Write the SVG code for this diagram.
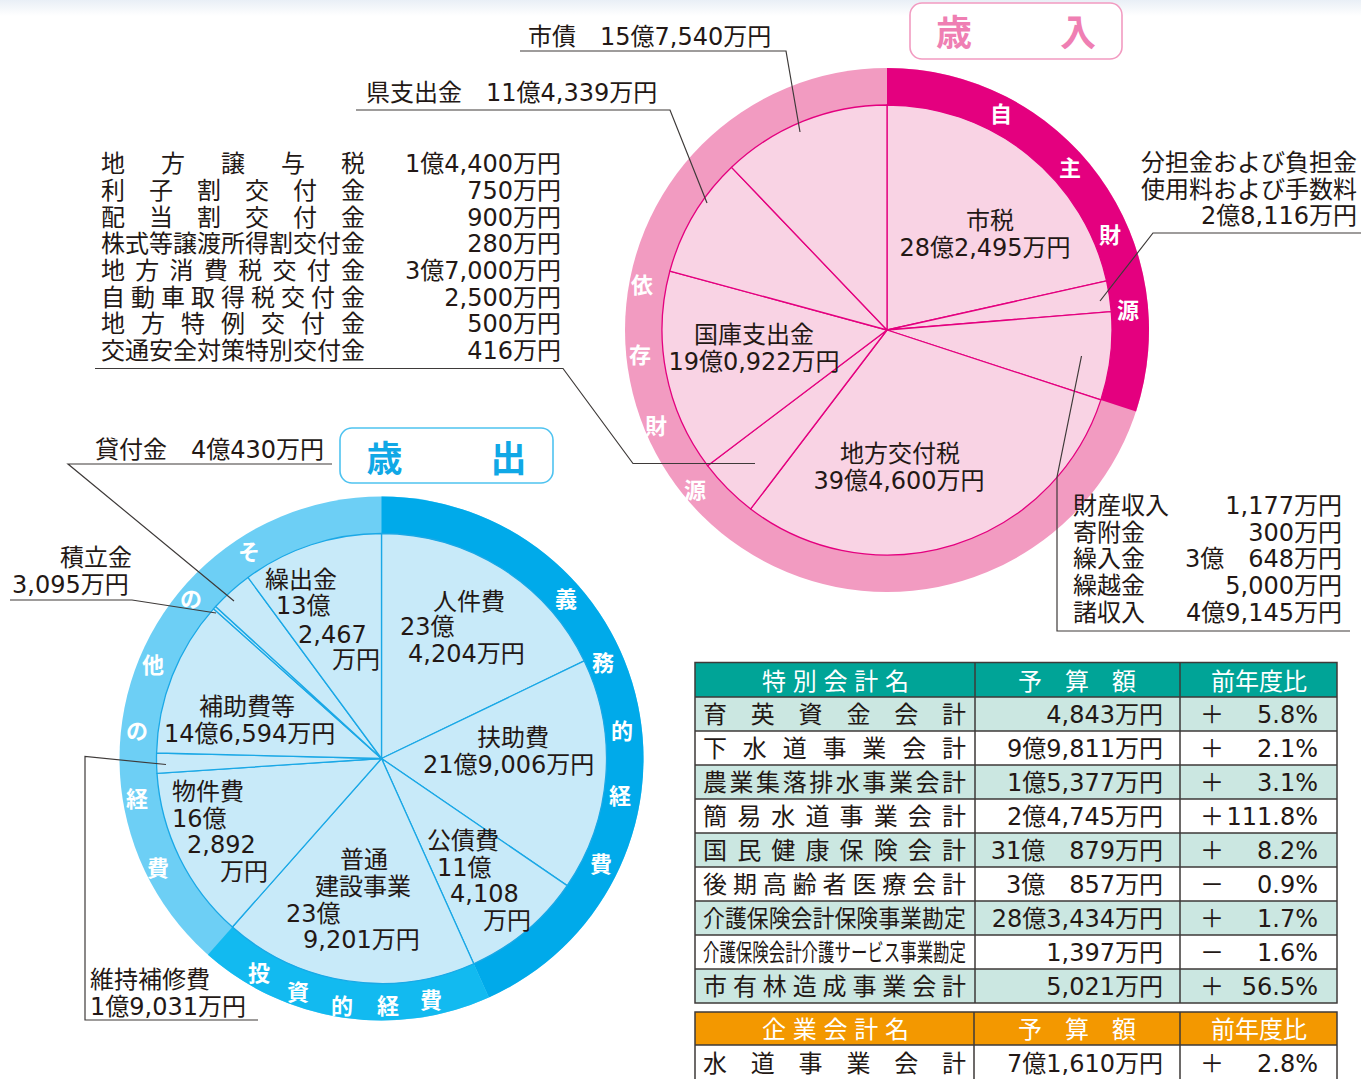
<svg xmlns="http://www.w3.org/2000/svg" width="1361" height="1079" viewBox="0 0 1361 1079">
<defs>
<linearGradient id="topband" x1="0" y1="0" x2="0" y2="1">
<stop offset="0" stop-color="#e9eff6"/>
<stop offset="1" stop-color="#ffffff"/>
</linearGradient>
<style>
.t{font-family:"DejaVu Sans","Noto Sans CJK JP",sans-serif;font-size:24px;fill:#231815}
.m{text-anchor:middle}
.e{text-anchor:end}
.rw{font-family:"Noto Sans CJK JP",sans-serif;font-size:22px;font-weight:700;fill:#ffffff;text-anchor:middle}
.ttl{font-family:"Noto Sans CJK JP",sans-serif;font-size:36px;font-weight:700;text-anchor:middle}
.ld{fill:none;stroke:#3e3a39;stroke-width:1.2}
.ps{fill:#f9d3e4;stroke:#e4007f;stroke-width:1.3;stroke-linejoin:round}
.bs{fill:#c8eaf9;stroke:#1aa8e6;stroke-width:1.3;stroke-linejoin:round}
.grid{fill:none;stroke:#3e3a39;stroke-width:1.5}
.hd{font-family:"Noto Sans CJK JP",sans-serif;font-size:24px;fill:#ffffff}
</style>
</defs>
<rect x="0" y="0" width="1361" height="1079" fill="#ffffff"/>
<rect x="0" y="0" width="1361" height="16" fill="url(#topband)"/>

<!-- ===== Revenue pie ===== -->
<g id="revenue-ring">
<circle cx="887" cy="330" r="262" fill="#f29bc1"/>
<path d="M887,330 L887,68 A262,262 0 0 1 1136.04,411.40 Z" fill="#e4007f"/>
<text class="rw" x="1001" y="122">自</text>
<text class="rw" x="1070" y="176">主</text>
<text class="rw" x="1110" y="243">財</text>
<text class="rw" x="1128" y="318">源</text>
<text class="rw" x="642" y="293">依</text>
<text class="rw" x="640" y="363">存</text>
<text class="rw" x="656" y="434">財</text>
<text class="rw" x="695" y="498">源</text>
</g>
<g id="rev-shizei"><path class="ps" d="M887,330 L887,105 A225,225 0 0 1 1106.58,280.92 Z"/>
<text class="t m" x="990" y="229">市税</text><text class="t m" x="985" y="256">28億2,495万円</text></g>
<g id="rev-buntankin"><path class="ps" d="M887,330 L1106.58,280.92 A225,225 0 0 1 1111.24,311.56 Z"/></g>
<g id="rev-zaisan"><path class="ps" d="M887,330 L1111.24,311.56 A225,225 0 0 1 1100.87,399.90 Z"/></g>
<g id="rev-koufuzei"><path class="ps" d="M887,330 L1100.87,399.90 A225,225 0 0 1 750.65,508.98 Z"/>
<text class="t m" x="900" y="462">地方交付税</text><text class="t m" x="899" y="489">39億4,600万円</text></g>
<g id="rev-jouyozei"><path class="ps" d="M887,330 L750.65,508.98 A225,225 0 0 1 707.56,465.72 Z"/></g>
<g id="rev-kokko"><path class="ps" d="M887,330 L707.56,465.72 A225,225 0 0 1 669.87,271.01 Z"/>
<text class="t m" x="754" y="343">国庫支出金</text><text class="t m" x="754" y="370">19億0,922万円</text></g>
<g id="rev-ken"><path class="ps" d="M887,330 L669.87,271.01 A225,225 0 0 1 731.55,167.33 Z"/></g>
<g id="rev-shisai"><path class="ps" d="M887,330 L731.55,167.33 A225,225 0 0 1 887,105 Z"/></g>

<g id="revenue-title">
<rect x="910" y="3" width="212" height="56" rx="12" fill="#ffffff" stroke="#f29bc1" stroke-width="1.6"/>
<text class="ttl" x="954" y="46" fill="#ef7fb3">歳</text>
<text class="ttl" x="1078" y="46" fill="#ef7fb3">入</text>
</g>

<g id="label-shisai"><text class="t" x="528" y="45">市債　15億7,540万円</text></g>
<g id="label-ken"><text class="t" x="366" y="101">県支出金　11億4,339万円</text></g>
<g id="label-buntankin">
<text class="t e" x="1357" y="171">分担金および負担金</text>
<text class="t e" x="1357" y="198">使用料および手数料</text>
<text class="t e" x="1357" y="224">2億8,116万円</text>
</g>
<g id="label-zaisan">
<text class="t" x="1073" y="514">財産収入</text><text class="t e" x="1342" y="514">1,177万円</text>
<text class="t" x="1073" y="541">寄附金</text><text class="t e" x="1342" y="541">300万円</text>
<text class="t" x="1073" y="567">繰入金</text><text class="t e" x="1342" y="567">3億　648万円</text>
<text class="t" x="1073" y="594">繰越金</text><text class="t e" x="1342" y="594">5,000万円</text>
<text class="t" x="1073" y="621">諸収入</text><text class="t e" x="1342" y="621">4億9,145万円</text>
</g>
<g id="label-jouyozei">
<text class="t" x="101" y="172" textLength="264" lengthAdjust="spacing">地方譲与税</text><text class="t e" x="561" y="172">1億4,400万円</text>
<text class="t" x="101" y="199" textLength="264" lengthAdjust="spacing">利子割交付金</text><text class="t e" x="561" y="199">750万円</text>
<text class="t" x="101" y="225.5" textLength="264" lengthAdjust="spacing">配当割交付金</text><text class="t e" x="561" y="225.5">900万円</text>
<text class="t" x="101" y="252" textLength="264" lengthAdjust="spacing">株式等譲渡所得割交付金</text><text class="t e" x="561" y="252">280万円</text>
<text class="t" x="101" y="279" textLength="264" lengthAdjust="spacing">地方消費税交付金</text><text class="t e" x="561" y="279">3億7,000万円</text>
<text class="t" x="101" y="305.5" textLength="264" lengthAdjust="spacing">自動車取得税交付金</text><text class="t e" x="561" y="305.5">2,500万円</text>
<text class="t" x="101" y="332" textLength="264" lengthAdjust="spacing">地方特例交付金</text><text class="t e" x="561" y="332">500万円</text>
<text class="t" x="101" y="359" textLength="264" lengthAdjust="spacing">交通安全対策特別交付金</text><text class="t e" x="561" y="359">416万円</text>
</g>

<!-- ===== Expenditure pie ===== -->
<g id="expenditure-ring">
<circle cx="381.5" cy="758.5" r="262" fill="#6dcff5"/>
<path d="M381.5,758.5 L381.5,496.5 A262,262 0 0 1 488.90,997.48 Z" fill="#00aaea"/>
<path d="M381.5,758.5 L488.90,997.48 A262,262 0 0 1 207.89,954.73 Z" fill="#12baf0"/>
<text class="rw" x="566" y="607">義</text>
<text class="rw" x="603" y="671">務</text>
<text class="rw" x="622" y="739">的</text>
<text class="rw" x="620" y="804">経</text>
<text class="rw" x="601" y="872">費</text>
<text class="rw" x="259" y="981">投</text>
<text class="rw" x="298" y="1000">資</text>
<text class="rw" x="342" y="1014">的</text>
<text class="rw" x="388" y="1014">経</text>
<text class="rw" x="431" y="1008">費</text>
<text class="rw" x="249" y="560">そ</text>
<text class="rw" x="191" y="607">の</text>
<text class="rw" x="153" y="673">他</text>
<text class="rw" x="137" y="739">の</text>
<text class="rw" x="137" y="807">経</text>
<text class="rw" x="158" y="876">費</text>
</g>
<g id="exp-jinkenhi"><path class="bs" d="M381.5,758.5 L381.5,533.5 A225,225 0 0 1 584.24,660.93 Z"/>
<text class="t" x="433" y="610">人件費</text><text class="t" x="400" y="635">23億</text><text class="t" x="408" y="662">4,204万円</text></g>
<g id="exp-fujohi"><path class="bs" d="M381.5,758.5 L584.24,660.93 A225,225 0 0 1 567.15,885.62 Z"/>
<text class="t" x="477" y="746">扶助費</text><text class="t" x="423" y="773">21億9,006万円</text></g>
<g id="exp-kousaihi"><path class="bs" d="M381.5,758.5 L567.15,885.62 A225,225 0 0 1 473.73,963.73 Z"/>
<text class="t" x="427" y="849">公債費</text><text class="t" x="437" y="876">11億</text><text class="t" x="450" y="902">4,108</text><text class="t" x="483" y="929">万円</text></g>
<g id="exp-kensetsu"><path class="bs" d="M381.5,758.5 L473.73,963.73 A225,225 0 0 1 232.41,927.02 Z"/>
<text class="t" x="340" y="868">普通</text><text class="t" x="315" y="895">建設事業</text><text class="t" x="286" y="922">23億</text><text class="t" x="303" y="948">9,201万円</text></g>
<g id="exp-bukkenhi"><path class="bs" d="M381.5,758.5 L232.41,927.02 A225,225 0 0 1 157.00,773.41 Z"/>
<text class="t" x="172" y="800">物件費</text><text class="t" x="172" y="827">16億</text><text class="t" x="187" y="853">2,892</text><text class="t" x="220" y="880">万円</text></g>
<g id="exp-iji"><path class="bs" d="M381.5,758.5 L157.00,773.41 A225,225 0 0 1 156.57,753.00 Z"/></g>
<g id="exp-hojohi"><path class="bs" d="M381.5,758.5 L156.57,753.00 A225,225 0 0 1 213.51,608.82 Z"/>
<text class="t" x="199" y="715">補助費等</text><text class="t" x="164" y="742">14億6,594万円</text></g>
<g id="exp-tsumitate"><path class="bs" d="M381.5,758.5 L213.51,608.82 A225,225 0 0 1 215.61,606.49 Z"/></g>
<g id="exp-kashitsuke"><path class="bs" d="M381.5,758.5 L215.61,606.49 A225,225 0 0 1 247.98,577.40 Z"/></g>
<g id="exp-kuridashi"><path class="bs" d="M381.5,758.5 L247.98,577.40 A225,225 0 0 1 381.5,533.5 Z"/>
<text class="t" x="265" y="588">繰出金</text><text class="t" x="276" y="614">13億</text><text class="t" x="298" y="643">2,467</text><text class="t" x="332" y="668">万円</text></g>

<g id="expenditure-title">
<rect x="340" y="428" width="213" height="55" rx="12" fill="#ffffff" stroke="#4fc3f0" stroke-width="1.6"/>
<text class="ttl" x="384.5" y="472" fill="#10a8e6">歳</text>
<text class="ttl" x="508.5" y="472" fill="#10a8e6">出</text>
</g>
<g id="label-kashitsuke"><text class="t" x="95" y="458">貸付金　4億430万円</text></g>
<g id="label-tsumitate"><text class="t" x="60" y="566">積立金</text><text class="t" x="12" y="593">3,095万円</text></g>
<g id="label-iji"><text class="t" x="90" y="988">維持補修費</text><text class="t" x="90" y="1015">1億9,031万円</text></g>

<!-- ===== Connectors ===== -->
<g id="connectors">
<polyline class="ld" points="520,51 786,51 800,132"/>
<polyline class="ld" points="356,110 670,110 707,203"/>
<polyline class="ld" points="1361,233 1153,233 1100,301"/>
<polyline class="ld" points="1081.5,356 1057,477 1057,631 1350,631"/>
<polyline class="ld" points="95,368.5 563,368.5 633,463.5 755,463.5"/>
<polyline class="ld" points="332,464 68,464 234,601"/>
<polyline class="ld" points="10,600 132,600 216,613"/>
<polyline class="ld" points="166,764.5 85,756.5 85,1020 258,1020"/>
</g>

<!-- ===== Special accounts table ===== -->
<g id="table-special">
<rect x="695" y="662.5" width="642" height="34.5" fill="#00a497"/>
<rect x="695" y="697" width="642" height="34" fill="#cbe7e1"/>
<rect x="695" y="765" width="642" height="34" fill="#cbe7e1"/>
<rect x="695" y="833" width="642" height="34" fill="#cbe7e1"/>
<rect x="695" y="901" width="642" height="34" fill="#cbe7e1"/>
<rect x="695" y="969" width="642" height="34" fill="#cbe7e1"/>
<rect class="grid" x="695" y="662.5" width="642" height="340.5"/>
<path class="grid" d="M695,697H1337M695,731H1337M695,765H1337M695,799H1337M695,833H1337M695,867H1337M695,901H1337M695,935H1337M695,969H1337M975,662.5V1003M1180,662.5V1003"/>
<text class="hd" x="762" y="690" textLength="147" lengthAdjust="spacing">特別会計名</text>
<text class="hd" x="1018" y="690" textLength="118" lengthAdjust="spacing">予算額</text>
<text class="hd m" x="1259" y="690">前年度比</text>

<text class="t" x="703" y="723" textLength="263" lengthAdjust="spacing">育英資金会計</text>
<text class="t e" x="1163" y="723">4,843万円</text><text class="t m" x="1212" y="723">＋</text><text class="t e" x="1318" y="723">5.8%</text>
<text class="t" x="703" y="757" textLength="263" lengthAdjust="spacing">下水道事業会計</text>
<text class="t e" x="1163" y="757">9億9,811万円</text><text class="t m" x="1212" y="757">＋</text><text class="t e" x="1318" y="757">2.1%</text>
<text class="t" x="703" y="791" textLength="263" lengthAdjust="spacing">農業集落排水事業会計</text>
<text class="t e" x="1163" y="791">1億5,377万円</text><text class="t m" x="1212" y="791">＋</text><text class="t e" x="1318" y="791">3.1%</text>
<text class="t" x="703" y="825" textLength="263" lengthAdjust="spacing">簡易水道事業会計</text>
<text class="t e" x="1163" y="825">2億4,745万円</text><text class="t m" x="1212" y="825">＋</text><text class="t e" x="1318" y="825">111.8%</text>
<text class="t" x="703" y="859" textLength="263" lengthAdjust="spacing">国民健康保険会計</text>
<text class="t e" x="1163" y="859">31億　879万円</text><text class="t m" x="1212" y="859">＋</text><text class="t e" x="1318" y="859">8.2%</text>
<text class="t" x="703" y="893" textLength="263" lengthAdjust="spacing">後期高齢者医療会計</text>
<text class="t e" x="1163" y="893">3億　857万円</text><text class="t m" x="1212" y="893">－</text><text class="t e" x="1318" y="893">0.9%</text>
<text class="t" transform="translate(703,927) scale(0.913,1)" x="0" y="0">介護保険会計保険事業勘定</text>
<text class="t e" x="1163" y="927">28億3,434万円</text><text class="t m" x="1212" y="927">＋</text><text class="t e" x="1318" y="927">1.7%</text>
<text class="t" transform="translate(703,961) scale(0.685,1)" x="0" y="0">介護保険会計介護サービス事業勘定</text>
<text class="t e" x="1163" y="961">1,397万円</text><text class="t m" x="1212" y="961">－</text><text class="t e" x="1318" y="961">1.6%</text>
<text class="t" x="703" y="995" textLength="263" lengthAdjust="spacing">市有林造成事業会計</text>
<text class="t e" x="1163" y="995">5,021万円</text><text class="t m" x="1212" y="995">＋</text><text class="t e" x="1318" y="995">56.5%</text>
</g>

<!-- ===== Enterprise accounts table ===== -->
<g id="table-enterprise">
<rect x="695" y="1012" width="642" height="33" fill="#f39800"/>
<rect class="grid" x="695" y="1012" width="642" height="80"/>
<path class="grid" d="M695,1045H1337M974,1012V1092M1180,1012V1092"/>
<text class="hd" x="762" y="1038" textLength="147" lengthAdjust="spacing">企業会計名</text>
<text class="hd" x="1018" y="1038" textLength="118" lengthAdjust="spacing">予算額</text>
<text class="hd m" x="1259" y="1038">前年度比</text>
<text class="t" x="703" y="1072" textLength="263" lengthAdjust="spacing">水道事業会計</text>
<text class="t e" x="1163" y="1072">7億1,610万円</text><text class="t m" x="1212" y="1072">＋</text><text class="t e" x="1318" y="1072">2.8%</text>
</g>
</svg>
